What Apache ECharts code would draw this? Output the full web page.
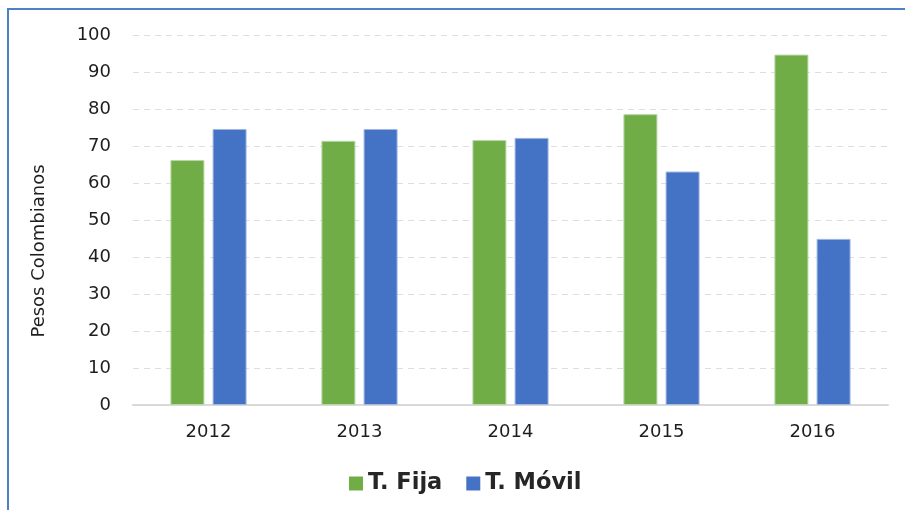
<!DOCTYPE html>
<html>
<head>
<meta charset="utf-8">
<script src="https://cdn.jsdelivr.net/npm/echarts@6/dist/echarts.min.js"></script>
<style>
  html, body { margin: 0; padding: 0; background: #fff; }
  #chart { width: 905px; height: 510px; }
</style>
</head>
<body>
<div id="chart"></div>
<script>
// 数据
const years = ['2012', '2013', '2014', '2015', '2016'];
const fija = [66.2, 71.4, 71.6, 78.6, 94.7];
const movil = [74.6, 74.6, 72.2, 63.1, 44.9];
const seriesNames = ['T. Fija', 'T. Móvil'];

const chart = echarts.init(document.getElementById('chart'));

const labelFont = 'DejaVu Sans, Verdana, sans-serif';

chart.setOption({
  animation: false,
  graphic: [
    {
      // 外框
      type: 'rect',
      shape: { x: 8, y: 9, width: 1000, height: 600 },
      style: { fill: 'none', stroke: '#4f81c7', lineWidth: 2 },
      silent: true,
    },
  ],
  legend: {
    data: seriesNames,
    left: 344,
    top: 467,
    itemWidth: 14,
    itemHeight: 14,
    itemGap: 24,
    icon: 'rect',
    itemStyle: { borderWidth: 0 },
    textStyle: {
      fontFamily: labelFont,
      fontSize: 22.5,
      fontWeight: 'bold',
      color: '#262626',
    },
  },
  grid: {
    left: 133,
    right: 17,
    top: 35,
    bottom: 105,
  },
  xAxis: {
    type: 'category',
    data: years,
    axisTick: { show: false },
    axisLine: { lineStyle: { color: '#d9d9d9', width: 2 } },
    axisLabel: {
      fontFamily: labelFont,
      fontSize: 18,
      color: '#1e1e1e',
      margin: 18,
    },
  },
  yAxis: {
    type: 'value',
    min: 0,
    max: 100,
    interval: 10,
    name: 'Pesos Colombianos',
    nameLocation: 'middle',
    nameGap: 85,
    nameTextStyle: {
      fontFamily: labelFont,
      fontSize: 18,
      color: '#1e1e1e',
      padding: [0, 62, 0, 0],
    },
    axisLine: { show: false },
    axisTick: { show: false },
    axisLabel: {
      fontFamily: labelFont,
      fontSize: 18,
      color: '#1e1e1e',
      margin: 22,
    },
    splitLine: {
      lineStyle: { color: '#dedede', type: [6, 5], width: 1 },
    },
  },
  series: [
    {
      name: seriesNames[0],
      type: 'bar',
      data: fija,
      barWidth: 34,
      barGap: '24%',
      itemStyle: {
        color: '#70ad47',
        borderColor: '#b7d7a3',
        borderWidth: 1,
      },
    },
    {
      name: seriesNames[1],
      type: 'bar',
      data: movil,
      barWidth: 34,
      barGap: '24%',
      itemStyle: {
        color: '#4472c4',
        borderColor: '#a2b9e2',
        borderWidth: 1,
      },
    },
  ],
});
</script>
</body>
</html>
